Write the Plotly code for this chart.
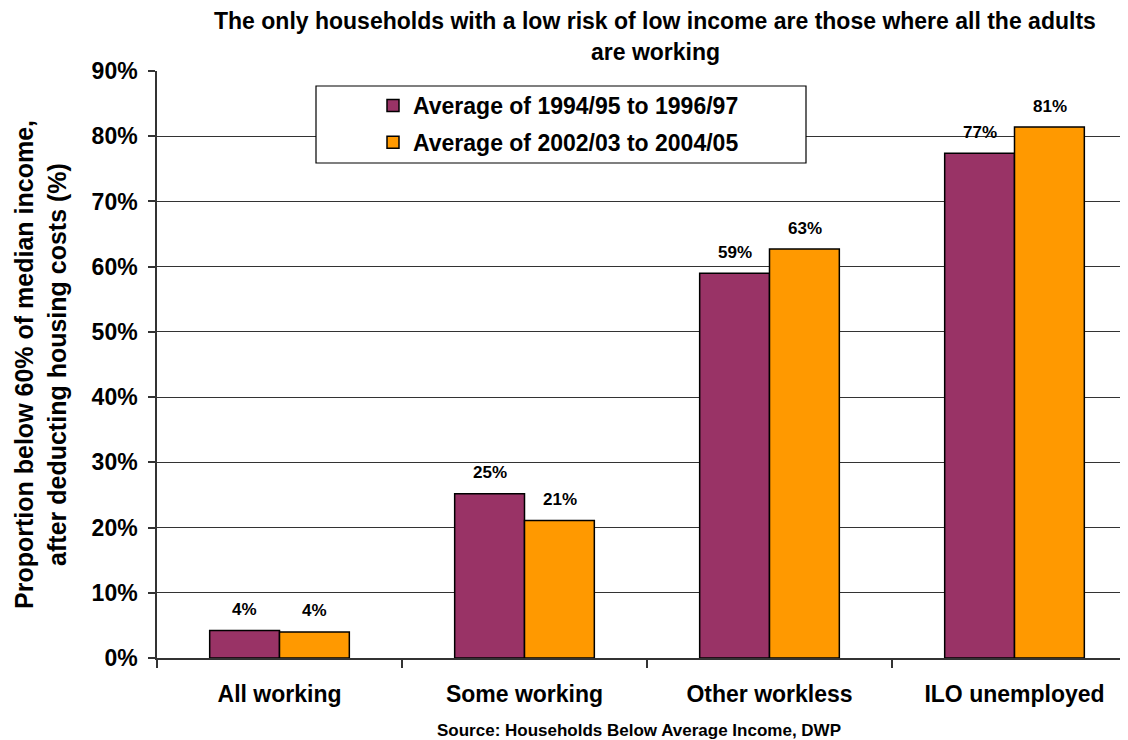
import plotly.graph_objects as go

categories = ["All working", "Some working", "Other workless", "ILO unemployed"]
series_names = ["Average of 1994/95 to 1996/97", "Average of 2002/03 to 2004/05"]
values_early = [4.2, 25.2, 59.0, 77.4]
values_late = [4.0, 21.1, 62.7, 81.4]
labels_early = ["4%", "25%", "59%", "77%"]
labels_late = ["4%", "21%", "63%", "81%"]
colors = ["#993366", "#FF9900"]
y_ticks = [0, 10, 20, 30, 40, 50, 60, 70, 80, 90]

# page body has an 8px margin, so the figure is placed at (8, 8)
OFF = 8
W, H = 1128 - OFF, 740 - OFF
L = 157 - OFF
T = 71 - OFF
B = H - (658 - OFF)
plot_w = W - L
ph = H - T - B
cat_w = 245.0
x_max = -0.5 + plot_w / cat_w


def fx(px):
    return (px - OFF - L) / plot_w


def fy(py):
    return 1 - (py - OFF - T) / ph


FONT = "Liberation Sans, Arial, sans-serif"
NARROW = "Liberation Sans Narrow, Arial Narrow, Liberation Sans, sans-serif"

fig = go.Figure()
for i, (name, vals) in enumerate([(series_names[0], values_early), (series_names[1], values_late)]):
    fig.add_trace(go.Bar(
        x=categories, y=vals, name=name,
        marker=dict(color=colors[i], line=dict(color="#000000", width=1.5)),
        legendgroup=f"g{i}",
    ))

annotations = []
for i, (vals, labs) in enumerate([(values_early, labels_early), (values_late, labels_late)]):
    shift = -35 if i == 0 else 35
    for c, v, lab in zip(categories, vals, labs):
        annotations.append(dict(
            x=c, y=v, xref="x", yref="y", text=f"<b>{lab}</b>", showarrow=False,
            xshift=shift, yshift=21, yanchor="middle",
            font=dict(family=NARROW, size=17, color="#000000"),
        ))

annotations.append(dict(
    x=fx(655), y=fy(21), xref="paper", yref="paper",
    text="<b>The only households with a low risk of low income are those where all the adults</b>",
    showarrow=False, yanchor="middle", xanchor="center",
    font=dict(family=FONT, size=23, color="#000000")))
annotations.append(dict(
    x=fx(655), y=fy(52), xref="paper", yref="paper",
    text="<b>are working</b>",
    showarrow=False, yanchor="middle", xanchor="center",
    font=dict(family=FONT, size=23, color="#000000")))
annotations.append(dict(
    x=fx(639), y=fy(730), xref="paper", yref="paper",
    text="<b>Source: Households Below Average Income, DWP</b>",
    showarrow=False, yanchor="middle", xanchor="center",
    font=dict(family=NARROW, size=17, color="#000000")))

fig.add_shape(type="rect", xref="paper", yref="paper",
              x0=fx(316), x1=fx(806), y0=fy(163), y1=fy(86),
              line=dict(color="#000000", width=1.2), fillcolor="#ffffff", layer="above")

fig.update_layout(
    width=W, height=H,
    margin=dict(l=L, r=0, t=T, b=B, pad=0, autoexpand=False),
    plot_bgcolor="#ffffff", paper_bgcolor="#ffffff",
    barmode="group", bargap=0.43, bargroupgap=0,
    font=dict(family=FONT, color="#000000"),
    showlegend=True,
    legend=dict(
        x=fx(373), y=fy(84), xanchor="left", yanchor="top",
        bgcolor="rgba(0,0,0,0)", borderwidth=0,
        traceorder="grouped", tracegroupgap=4,
        font=dict(family=FONT, size=23, color="#000000", weight="bold"),
    ),
    annotations=annotations,
    xaxis=dict(
        range=[-0.5, x_max], type="category", automargin=False,
        tickson="boundaries", ticks="outside", ticklen=8, tickcolor="#333333", tickwidth=1.5,
        showline=True, linecolor="#333333", linewidth=1.5,
        tickfont=dict(family=FONT, size=23, color="#000000", weight="bold"),
        ticklabelstandoff=15,
        showgrid=False, fixedrange=True,
    ),
    yaxis=dict(
        range=[0, 90], tickvals=y_ticks, ticktext=[f"{t}%" for t in y_ticks], automargin=False,
        ticks="outside", ticklen=7, tickcolor="#333333", tickwidth=1.5,
        showline=True, linecolor="#333333", linewidth=1.5,
        showgrid=True, gridcolor="#333333", gridwidth=1.2,
        tickfont=dict(family=FONT, size=23, color="#000000", weight="bold"),
        ticklabelstandoff=6,
        title=dict(text="<b>Proportion below 60% of median income,<br>after deducting housing costs (%)</b>",
                   font=dict(family=FONT, size=25, color="#000000"), standoff=18),
        zeroline=False, fixedrange=True,
    ),
)

fig.write_html("out.html")
